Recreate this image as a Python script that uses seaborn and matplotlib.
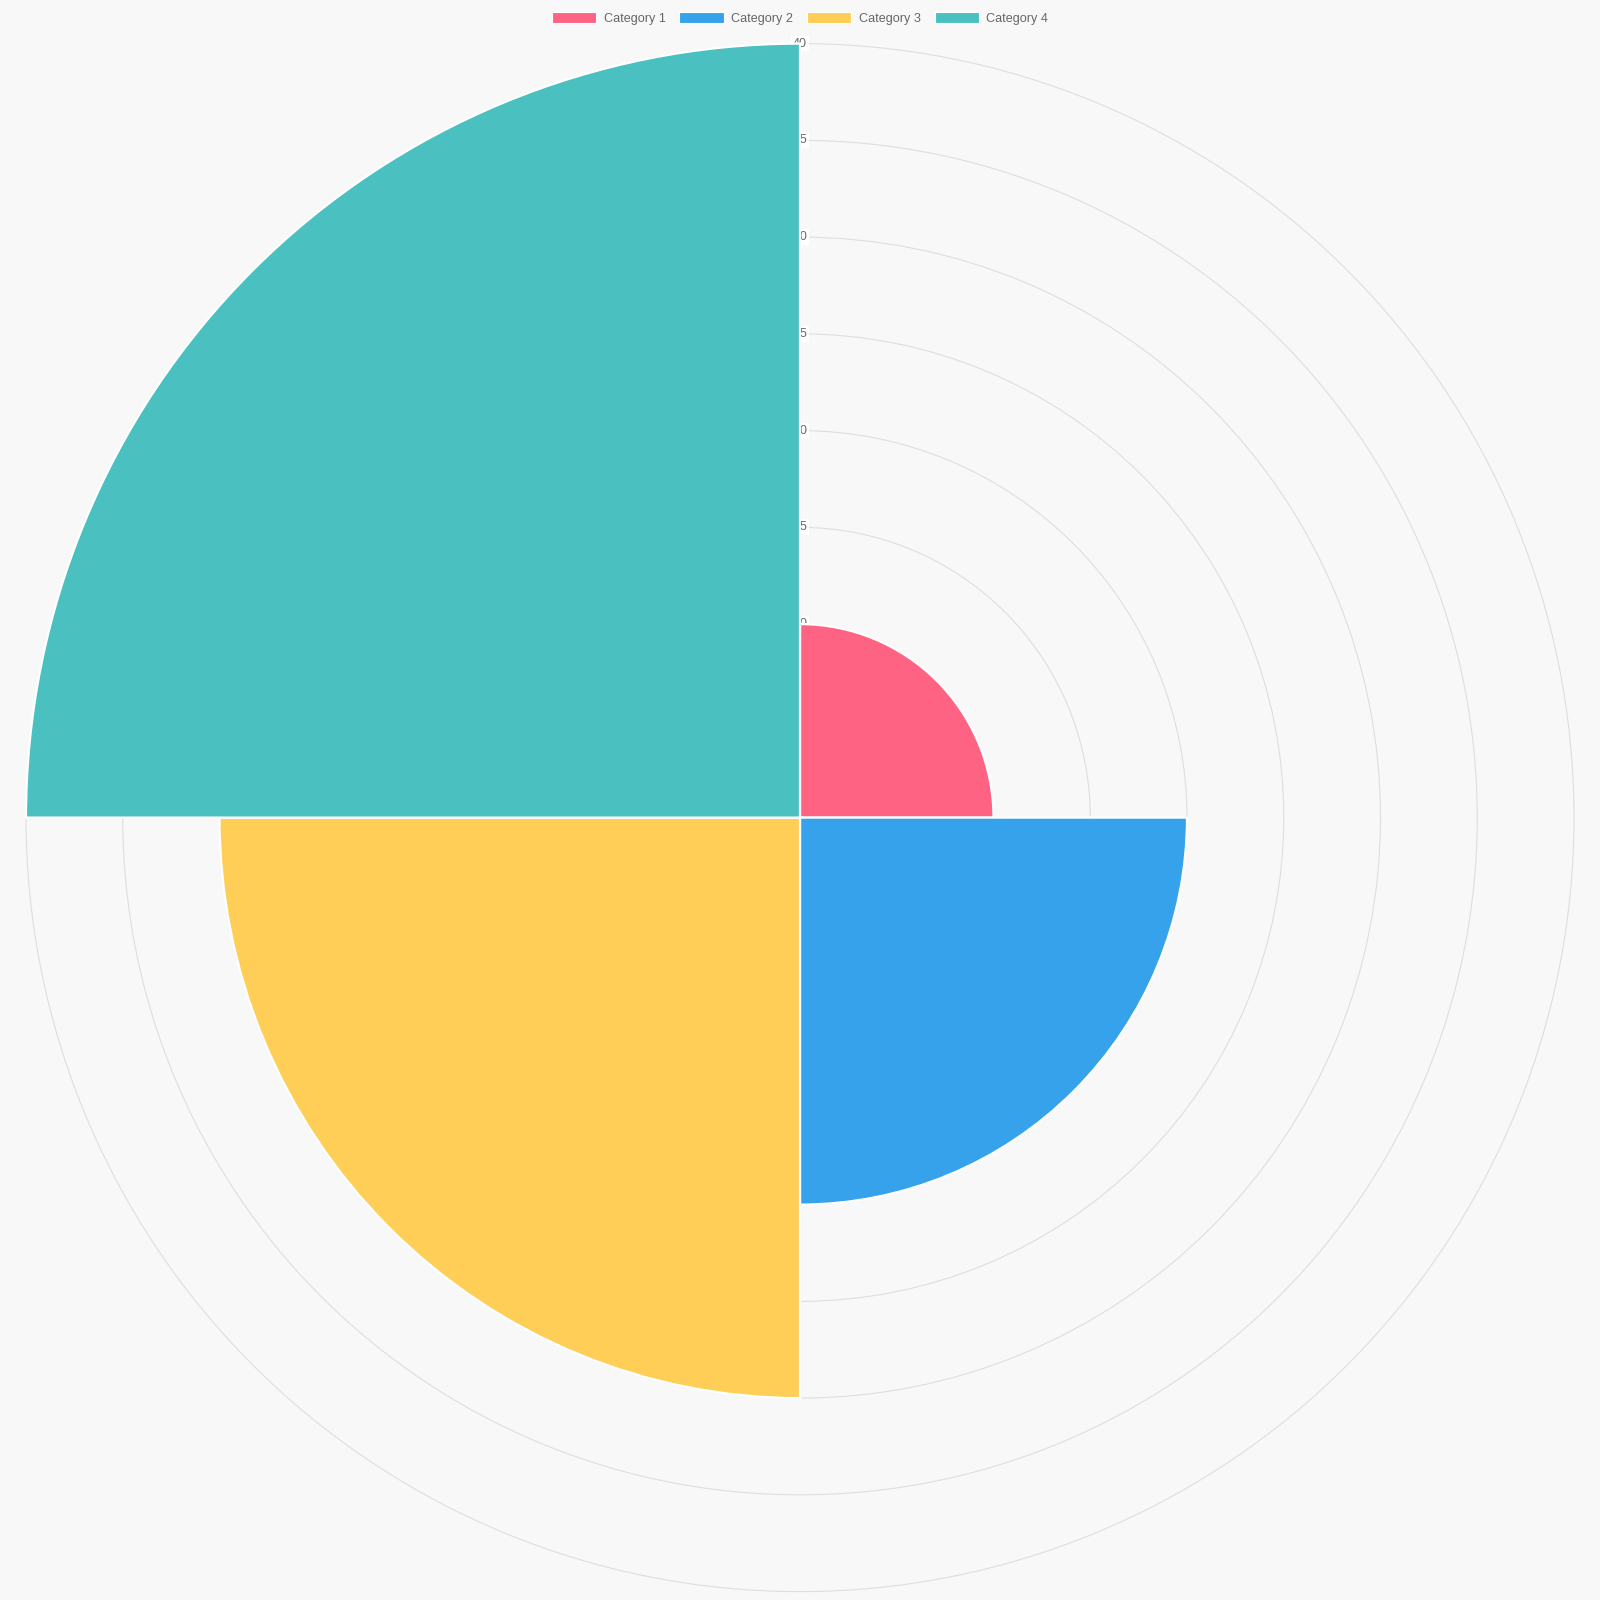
import numpy as np
import matplotlib.pyplot as plt
import seaborn as sns
from matplotlib.patches import Patch

categories = ["Category 1", "Category 2", "Category 3", "Category 4"]
values = [10, 20, 30, 40]
colors = ["#FF6384", "#36A2EB", "#FFCE56", "#4BC0C0"]
ring_ticks = [5, 10, 15, 20, 25, 30, 35, 40]

sns.set_theme(style="white")
plt.rcParams["font.family"] = ["Liberation Sans", "DejaVu Sans"]

bg = "#f8f8f8"
rmax = 40.1  # a hair past the outer ring so it is not clipped
half = 774 / 1600 * rmax / 40
fig = plt.figure(figsize=(16, 16), dpi=100, facecolor=bg)
ax = fig.add_axes([0.5 - half, 0.489 - half, 2 * half, 2 * half], projection="polar")
ax.set_facecolor(bg)
ax.set_theta_zero_location("N")
ax.set_theta_direction(-1)

n = len(categories)
width = 2 * np.pi / n
theta = np.arange(n) * width + width / 2
ax.bar(theta, values, width=width, color=colors, edgecolor="white",
       linewidth=1.6, zorder=3)

ax.set_ylim(0, rmax)
ax.set_yticks(ring_ticks)
ax.set_yticklabels([])
ax.set_xticks([])
ax.set_axisbelow(True)
ax.yaxis.grid(True, color="#dedede", linewidth=0.8)
ax.xaxis.grid(False)
ax.spines["polar"].set_visible(False)

# tick labels drawn under the segments, as in the original
for r in ring_ticks:
    ax.text(0, r, str(r), ha="center", va="center", fontsize=9, color="#666666",
            zorder=2, bbox=dict(boxstyle="square,pad=0.15", fc="white", ec="none"))

handles = [Patch(facecolor=c, edgecolor="white", linewidth=0.8) for c in colors]
fig.legend(handles, categories, loc="upper center", bbox_to_anchor=(0.5, 1.0),
           ncol=n, frameon=False, fontsize=9.1, labelcolor="#666666",
           handlelength=3.5, handleheight=1.0, handletextpad=0.6,
           columnspacing=1.1, borderaxespad=0.55)

fig.savefig("out.png", dpi=100, facecolor=bg)
